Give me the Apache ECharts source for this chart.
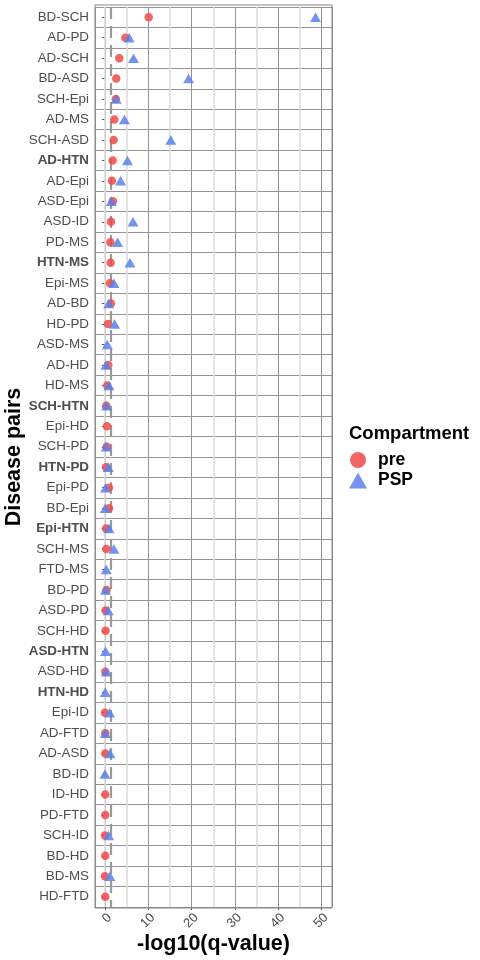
<!DOCTYPE html>
<html>
<head>
<meta charset="utf-8">
<script src="https://cdn.jsdelivr.net/npm/echarts@6/dist/echarts.min.js"></script>
<style>
html,body{margin:0;padding:0;background:#fff;}
#chart{width:480px;height:960px;}
</style>
</head>
<body>
<div id="chart"></div>
<script>
// Categories (top to bottom)
var pairs = ['BD-SCH','AD-PD','AD-SCH','BD-ASD','SCH-Epi','AD-MS','SCH-ASD','AD-HTN','AD-Epi','ASD-Epi',
  'ASD-ID','PD-MS','HTN-MS','Epi-MS','AD-BD','HD-PD','ASD-MS','AD-HD','HD-MS','SCH-HTN',
  'Epi-HD','SCH-PD','HTN-PD','Epi-PD','BD-Epi','Epi-HTN','SCH-MS','FTD-MS','BD-PD','ASD-PD',
  'SCH-HD','ASD-HTN','ASD-HD','HTN-HD','Epi-ID','AD-FTD','AD-ASD','BD-ID','ID-HD','PD-FTD',
  'SCH-ID','BD-HD','BD-MS','HD-FTD'];
var boldPairs = ['AD-HTN','HTN-MS','SCH-HTN','HTN-PD','Epi-HTN','ASD-HTN','HTN-HD'];
// -log10(q-value), pre compartment
var preValues = [10.1,4.7,3.3,2.6,2.5,2.15,2.0,1.77,1.6,1.84,
  1.38,1.23,1.3,1.15,1.38,0.69,null,0.76,0.53,0.3,
  0.46,0.38,0.23,0.92,0.92,0.23,0.3,null,0.37,0.14,
  0.14,null,0.07,null,0.0,0.07,0.07,null,0.07,0.07,
  0.0,0.07,0.0,0.07];
// -log10(q-value), PSP compartment
var pspValues = [48.6,5.6,6.6,19.3,2.6,4.5,15.2,5.2,3.6,1.45,
  6.47,2.92,5.77,2.07,0.84,2.22,0.53,0.23,0.92,0.37,
  null,0.3,0.76,0.14,0.07,0.92,2.07,0.3,0.14,0.76,
  null,0.14,0.3,0.07,1.07,0.07,1.15,0.0,null,null,
  0.84,null,1.15,null];
var lightGrid = [0,5,15,25,35,45];
var threshold = 1.3;
var seriesNames = ['pre','PSP'];

function toData(vals){
  var out = [];
  for (var i = 0; i < vals.length; i++) {
    if (vals[i] !== null) out.push([vals[i], pairs[i]]);
  }
  return out;
}

var FONT = '"Liberation Sans", Arial, sans-serif';
var chart = echarts.init(document.getElementById('chart'), null, {renderer:'canvas'});
var option = {
  backgroundColor: '#ffffff',
  animation: false,
  textStyle: {fontFamily: FONT},
  title: {
    text: 'Compartment',
    left: 349, top: 424, padding: 0,
    textStyle: {fontFamily: FONT, fontWeight: 'bold', fontSize: 18.5, color: '#000'}
  },
  legend: {
    data: [
      {name: 'pre', icon: 'circle'},
      {name: 'PSP', icon: 'triangle'}
    ],
    orient: 'vertical',
    left: 349, top: 451, padding: 0,
    itemWidth: 18, itemHeight: 16, itemGap: 2.5,
    textStyle: {fontFamily: FONT, fontWeight: 'bold', fontSize: 17.5, color: '#000', padding: [0,0,0,6]}
  },
  grid: {left: 95, top: 7, width: 237, height: 900, show: false, containLabel: false, outerBoundsMode: 'none'},
  xAxis: {
    type: 'value',
    min: -2.3, max: 52.4,
    splitNumber: 5,
    name: '-log10(q-value)',
    nameLocation: 'middle',
    nameGap: 26,
    nameMoveOverlap: false,
    nameTextStyle: {fontFamily: FONT, fontWeight: 'bold', fontSize: 21.5, color: '#000'},
    axisLine: {show: false},
    axisTick: {show: true, length: 3, lineStyle: {color: '#555', width: 1}},
    axisLabel: {rotate: 45, fontSize: 13, color: '#4d4d4d', fontFamily: FONT, margin: 4,
      verticalAlign: 'top', showMinLabel: false, showMaxLabel: false},
    splitLine: {show: true, lineStyle: {color: '#939393', width: 1}}
  },
  yAxis: {
    type: 'category',
    data: pairs,
    inverse: true,
    name: 'Disease pairs',
    nameLocation: 'middle',
    nameRotate: 90,
    nameGap: 70,
    nameMoveOverlap: false,
    nameTextStyle: {fontFamily: FONT, fontWeight: 'bold', fontSize: 21.5, color: '#000'},
    axisLine: {show: false},
    axisTick: {show: true, alignWithLabel: true, length: 3, lineStyle: {color: '#555', width: 1}},
    axisLabel: {
      fontSize: 13.4, color: '#4d4d4d', fontFamily: FONT, margin: 6, interval: 0,
      formatter: function(v){ return boldPairs.indexOf(v) >= 0 ? '{b|' + v + '}' : v; },
      rich: {b: {fontWeight: 'bold', fontSize: 13.4, color: '#4d4d4d', fontFamily: FONT}}
    },
    splitLine: {show: true, interval: 0, lineStyle: {color: '#939393', width: 1}}
  },
  graphic: [{
    type: 'rect', z: 100, silent: true,
    shape: {x: 95, y: 5, width: 237, height: 903},
    style: {fill: 'none', stroke: '#858585', lineWidth: 1}
  }],
  series: [
    {
      type: 'line', name: 'guides', data: [], silent: true, z: 1,
      markLine: {
        z: 1,
        silent: true, symbol: ['none','none'], label: {show: false}, animation: false,
        data: lightGrid.map(function(v){ return {xAxis: v, lineStyle: {color: '#dcdcdc', width: 1.6, type: 'solid'}}; })
          .concat([{xAxis: threshold, lineStyle: {color: '#999999', width: 2.2, type: [12, 7]}}])
      }
    },
    {
      type: 'scatter', name: seriesNames[0], data: toData(preValues), z: 3,
      symbol: 'circle', symbolSize: 8.5,
      itemStyle: {color: '#f04a4a', opacity: 0.85}
    },
    {
      type: 'scatter', name: seriesNames[1], data: toData(pspValues), z: 4,
      symbol: 'triangle', symbolSize: [11, 9.5],
      itemStyle: {color: '#5b80ea', opacity: 0.85}
    }
  ]
};
chart.setOption(option);
</script>
</body>
</html>
